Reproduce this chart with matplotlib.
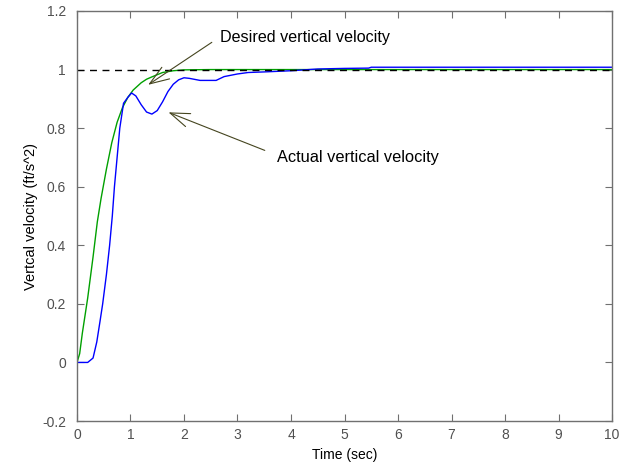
import matplotlib
matplotlib.use("Agg")
import matplotlib.pyplot as plt

plt.rcParams["font.family"] = ["Liberation Sans", "DejaVu Sans"]

# desired (reference) vertical velocity
t_desired = [0.0, 0.05, 0.1, 0.2, 0.3, 0.38, 0.45, 0.55, 0.65, 0.75, 0.85, 0.95,
             1.05, 1.2, 1.3, 1.4, 1.6, 1.8, 2.0, 2.5, 10.0]
v_desired = [0.0, 0.03, 0.1, 0.22, 0.36, 0.48, 0.56, 0.66, 0.75, 0.82, 0.87, 0.905,
             0.93, 0.955, 0.967, 0.975, 0.99, 0.996, 0.999, 1.0, 1.0]

# actual vertical velocity
t_actual = [0.0, 0.1, 0.2, 0.3, 0.37, 0.43, 0.48, 0.55, 0.61, 0.66, 0.70, 0.75,
            0.80, 0.87, 0.95, 1.02, 1.1, 1.2, 1.3, 1.4, 1.5, 1.6, 1.7, 1.8, 1.9,
            2.0, 2.1, 2.3, 2.6, 2.75, 3.0, 3.2, 3.5, 4.0, 4.5, 5.0, 5.45, 5.5, 10.0]
v_actual = [0.0, 0.0, 0.0, 0.015, 0.07, 0.14, 0.2, 0.3, 0.4, 0.5, 0.6, 0.7,
            0.8, 0.885, 0.905, 0.92, 0.91, 0.88, 0.855, 0.848, 0.86, 0.89, 0.925, 0.95, 0.965,
            0.972, 0.97, 0.963, 0.963, 0.976, 0.985, 0.99, 0.992, 0.996, 1.002, 1.004, 1.005, 1.008, 1.008]

setpoint = 1.0
x_ticks = list(range(0, 11))
y_ticks = [-0.2, 0, 0.2, 0.4, 0.6, 0.8, 1, 1.2]
y_tick_labels = ["-0.2", "0", "0.2", "0.4", "0.6", "0.8", "1", "1.2"]

fig = plt.figure(figsize=(6.29, 4.68), dpi=100)
ax = fig.add_axes([0.1224, 0.1004, 0.8506, 0.8761])

ax.plot(t_desired, v_desired, color="#00a000", lw=1.0)
ax.plot(t_actual, v_actual, color="#0000ff", lw=1.0)
ax.plot([0, 10], [setpoint, setpoint], color="black", lw=1.0, linestyle=(0, (5, 4)))

ax.set_xlim(0, 10)
ax.set_ylim(-0.2, 1.2)
ax.set_xticks(x_ticks)
ax.set_yticks(y_ticks)
ax.set_yticklabels(y_tick_labels)

for s in ax.spines.values():
    s.set_color("#707070")
    s.set_linewidth(1.0)
ax.tick_params(direction="in", length=5, width=0.8, color="#707070",
               labelcolor="#505050", labelsize=10, top=True, right=True)
ax.tick_params(axis="x", pad=5)
ax.tick_params(axis="y", pad=8)

ax.set_xlabel("Time (sec)", fontsize=10)
ax.set_ylabel("Vertcal velocity (ft/s^2)", fontsize=10.5, labelpad=3)

arrow_color = "#45451f"
aprops = dict(arrowstyle="->,head_length=1.4,head_width=0.5", color=arrow_color,
              lw=0.8, shrinkA=0, shrinkB=0)
ax.annotate("", xy=(1.33, 0.948), xytext=(2.52, 1.093), arrowprops=aprops)
ax.text(2.67, 1.109, "Desired vertical velocity", fontsize=11.6, va="center", ha="left")
ax.annotate("", xy=(1.71, 0.854), xytext=(3.51, 0.724), arrowprops=aprops)
ax.text(3.74, 0.70, "Actual vertical velocity", fontsize=11.8, va="center", ha="left")

fig.savefig("out.png", dpi=100)
